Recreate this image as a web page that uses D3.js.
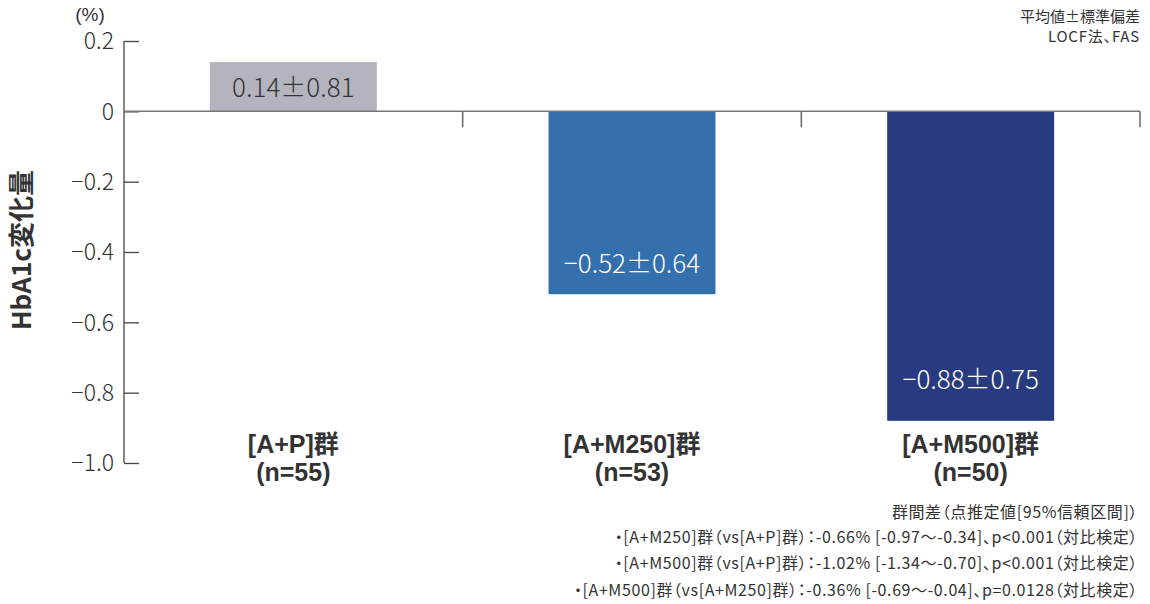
<!DOCTYPE html>
<html>
<head>
<meta charset="utf-8">
<script src="https://cdn.jsdelivr.net/npm/d3@7"></script>
<style>
  html, body { margin: 0; padding: 0; background: #fff; }
  svg { display: block; font-family: "Noto Sans CJK JP", "Noto Sans", sans-serif; font-feature-settings: "palt" 1; }
</style>
</head>
<body>
<svg id="chart" width="1150" height="604"></svg>
<script>
// HbA1c change from baseline by treatment group
const groups = ["[A+P]群", "[A+M250]群", "[A+M500]群"];
const groupN = ["(n=55)", "(n=53)", "(n=50)"];
const means = [0.14, -0.52, -0.88];
const sds = [0.81, 0.64, 0.75];
const barColors = ["#b4b4be", "#346fae", "#283b80"];
const labelColors = ["#333333", "#ffffff", "#ffffff"];
const yTicks = [0.2, 0, -0.2, -0.4, -0.6, -0.8, -1.0];
const notesTop = ["平均値±標準偏差", "LOCF法、FAS"];
const notesBottom = [
  "群間差（点推定値[95%信頼区間]）",
  "・[A+M250]群（vs[A+P]群）：-0.66% [-0.97〜-0.34]、p<0.001（対比検定）",
  "・[A+M500]群（vs[A+P]群）：-1.02% [-1.34〜-0.70]、p<0.001（対比検定）",
  "・[A+M500]群（vs[A+M250]群）：-0.36% [-0.69〜-0.04]、p=0.0128（対比検定）"
];

const svg = d3.select("#chart");
const ink = "#333333";

const x = d3.scaleBand().domain(groups).range([124, 1140]).paddingInner(0).paddingOuter(0);
const y = d3.scaleLinear().domain([-1.0, 0.2]).range([463, 41]);
const barW = x.bandwidth() * 0.493;

const tickFmt = v => v === 0 ? "0" : (v < 0 ? "−" : "") + Math.abs(v).toFixed(1);

// bars
svg.append("g").selectAll("rect")
  .data(means)
  .join("rect")
  .attr("x", (d, i) => x(groups[i]) + (x.bandwidth() - barW) / 2)
  .attr("y", d => y(Math.max(0, d)))
  .attr("width", barW)
  .attr("height", d => Math.abs(y(d) - y(0)))
  .attr("fill", (d, i) => barColors[i]);

// y axis
const yAxis = d3.axisRight(y).tickValues(yTicks).tickSize(15).tickFormat("");
const gy = svg.append("g").attr("transform", "translate(124,0)").call(yAxis);
gy.select(".domain").attr("stroke", "#444").attr("stroke-width", 1.3)
  .attr("d", `M0,${y(0.2)}V${y(-1.0)}`);
gy.selectAll(".tick line").attr("stroke", "#444").attr("stroke-width", 1.3);

svg.append("g").selectAll("text")
  .data(yTicks)
  .join("text")
  .attr("x", 114)
  .attr("y", d => y(d))
  .attr("dy", "0.36em")
  .attr("text-anchor", "end")
  .attr("font-size", 23)
  .attr("font-weight", 300)
  .attr("fill", ink)
  .text(tickFmt);

// zero baseline with category separators
const xAxis = d3.axisBottom(x).tickSize(0).tickFormat("");
svg.append("g").attr("transform", `translate(0,${y(0)})`).call(xAxis)
  .select(".domain").attr("stroke", "#777").attr("stroke-width", 1.5)
  .attr("d", `M124,0H1140`);
svg.append("g").selectAll("line")
  .data(groups)
  .join("line")
  .attr("x1", d => x(d) + x.bandwidth())
  .attr("x2", d => x(d) + x.bandwidth())
  .attr("y1", y(0))
  .attr("y2", y(0) + 16)
  .attr("stroke", "#666")
  .attr("stroke-width", 1.5);

// value labels inside bars
const labelShift = [0, 31, 41];
svg.append("g").selectAll("text")
  .data(means)
  .join("text")
  .attr("x", (d, i) => x(groups[i]) + x.bandwidth() / 2)
  .attr("y", (d, i) => d >= 0 ? (y(d) + y(0)) / 2 + 1 : y(d) - labelShift[i])
  .attr("dy", "0.36em")
  .attr("text-anchor", "middle")
  .attr("font-size", 26)
  .attr("font-weight", 300)
  .attr("fill", (d, i) => labelColors[i])
  .text((d, i) => (d < 0 ? "−" : "") + Math.abs(d).toFixed(2) + "±" + sds[i].toFixed(2));

// category labels (two lines each)
const cat = svg.append("g").selectAll("text")
  .data(groups)
  .join("text")
  .attr("text-anchor", "middle")
  .style("font-family", '"Liberation Sans", "Noto Sans CJK JP", sans-serif')
  .attr("font-size", 25).attr("font-weight", 700).attr("fill", ink);
cat.append("tspan")
  .attr("x", d => x(d) + x.bandwidth() / 2)
  .attr("y", 444).attr("dy", "0.36em")
  .text(d => d);
cat.append("tspan")
  .attr("x", d => x(d) + x.bandwidth() / 2)
  .attr("y", 472).attr("dy", "0.36em")
  .text((d, i) => groupN[i]);

// axis titles
svg.append("text")
  .attr("transform", `translate(22,250) rotate(-90)`)
  .attr("dy", "0.36em")
  .attr("text-anchor", "middle")
  .attr("font-size", 26).attr("font-weight", 700).attr("fill", ink)
  .text("HbA1c変化量");
svg.append("text")
  .attr("x", 90).attr("y", 14).attr("dy", "0.36em")
  .attr("text-anchor", "middle")
  .style("font-family", '"Liberation Sans", sans-serif')
  .attr("font-size", 19).attr("fill", ink)
  .text("(%)");

// notes
svg.append("g").selectAll("text")
  .data(notesTop)
  .join("text")
  .attr("x", 1140)
  .attr("y", (d, i) => 17 + i * 20)
  .attr("dy", "0.36em")
  .attr("text-anchor", "end")
  .attr("font-size", 15).attr("fill", ink)
  .attr("letter-spacing", (d, i) => i === 1 ? 0.8 : 0)
  .text(d => d);
svg.append("g").selectAll("text")
  .data(notesBottom)
  .join("text")
  .attr("x", 1138)
  .attr("y", (d, i) => [512, 537, 563, 590][i])
  .attr("dy", "0.36em")
  .attr("text-anchor", "end")
  .attr("font-size", 16).attr("fill", ink)
  .attr("letter-spacing", 0.6)
  .text(d => d);
</script>
</body>
</html>
